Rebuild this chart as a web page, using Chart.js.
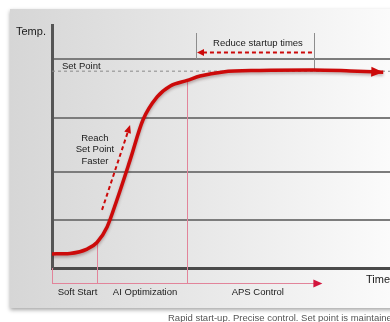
<!DOCTYPE html>
<html>
<head>
<meta charset="utf-8">
<script src="https://cdn.jsdelivr.net/npm/chart.js@4/dist/chart.umd.min.js"></script>
<style>
  html, body { margin: 0; padding: 0; background: #fff; overflow: hidden; }
  #wrap { width: 390px; height: 322px; }
</style>
</head>
<body>
<div id="wrap"><canvas id="c" width="390" height="322"></canvas></div>
<script>
// Heating profile: time (% of run) vs temperature (% of scale)
const timePct = [0, 5.3, 10.4, 13.3, 16.3, 19.2, 23.1, 26.9, 31.1, 35, 40, 43.8, 50.6, 61.5, 77.2, 88.2, 98];
const tempPct = [5.8, 6.0, 7.8, 10.5, 16.9, 28, 44.4, 60.9, 70.4, 74.9, 77.2, 79, 80.7, 81.3, 81.5, 81.1, 80.6];

// Horizontal reference levels drawn as grid lines
const tempGrid = [19.8, 39.5, 61.7, 86];
const setPoint = 81;

// Control phases along the time axis
const phaseNames = ['Soft Start', 'AI Optimization', 'APS Control'];
const phaseStart = [0, 13.3, 40];
const phaseEnd = 80;

// Time saved compared with a conventional start-up
const reduceSpan = [42.6, 77.5];
const reduceLevel = 88.9;
const fasterFrom = [14.8, 23.9];
const fasterTo = [23.1, 58.8];

const FONT = "'Liberation Sans', Arial, sans-serif";

function arrowHead(ctx, x1, y1, x2, y2, len, half, color) {
  const a = Math.atan2(y2 - y1, x2 - x1);
  ctx.save();
  ctx.fillStyle = color;
  ctx.beginPath();
  ctx.moveTo(x2, y2);
  ctx.lineTo(x2 - len * Math.cos(a) + half * Math.sin(a), y2 - len * Math.sin(a) - half * Math.cos(a));
  ctx.lineTo(x2 - len * Math.cos(a) - half * Math.sin(a), y2 - len * Math.sin(a) + half * Math.cos(a));
  ctx.closePath();
  ctx.fill();
  ctx.restore();
}

function curveAt(t) {
  const i = timePct.indexOf(t);
  return tempPct[i];
}

const panelPlugin = {
  id: 'panel',
  beforeDraw(chart) {
    const ctx = chart.ctx;
    ctx.save();
    ctx.fillStyle = '#ffffff';
    ctx.fillRect(0, 0, chart.width, chart.height);
    // soft card with a drop shadow
    ctx.shadowColor = 'rgba(0,0,0,0.35)';
    ctx.shadowBlur = 4;
    ctx.shadowOffsetY = 2;
    const g = ctx.createLinearGradient(10, 0, 390, 0);
    g.addColorStop(0, '#d6d6d6');
    g.addColorStop(0.45, '#e6e6e6');
    g.addColorStop(1, '#fbfbfb');
    ctx.fillStyle = g;
    ctx.fillRect(10, 9, 400, 299);
    ctx.restore();
  },
  beforeDatasetsDraw(chart) {
    const ctx = chart.ctx;
    const xs = chart.scales.x, ys = chart.scales.y;
    const base = chart.chartArea.bottom + 15;
    ctx.save();
    // phase boundaries
    ctx.strokeStyle = '#e2849a';
    ctx.lineWidth = 1;
    phaseStart.forEach((t, i) => {
      const px = Math.round(xs.getPixelForValue(t)) + 0.5;
      const top = i === 0 ? chart.chartArea.bottom : ys.getPixelForValue(curveAt(t));
      ctx.beginPath();
      ctx.moveTo(px, base);
      ctx.lineTo(px, top);
      ctx.stroke();
    });
    // time axis of the phases
    const endX = xs.getPixelForValue(phaseEnd);
    ctx.beginPath();
    ctx.moveTo(xs.getPixelForValue(0), base + 0.5);
    ctx.lineTo(endX - 4, base + 0.5);
    ctx.stroke();
    arrowHead(ctx, endX - 10, base + 0.5, endX, base + 0.5, 9, 4, '#d3153d');

    // bracket of the saved time
    ctx.strokeStyle = '#8d8d8d';
    const topB = ys.getPixelForValue(96.7);
    const lx = Math.round(xs.getPixelForValue(reduceSpan[0])) + 0.5;
    const rx = Math.round(xs.getPixelForValue(reduceSpan[1])) + 0.5;
    ctx.beginPath();
    ctx.moveTo(lx, topB); ctx.lineTo(lx, ys.getPixelForValue(tempGrid[3]));
    ctx.moveTo(rx, topB); ctx.lineTo(rx, ys.getPixelForValue(setPoint));
    ctx.stroke();
    ctx.restore();
  },
  beforeDatasetDraw(chart, args) {
    if (args.index === 0) {
      chart.ctx.save();
      chart.ctx.shadowColor = 'rgba(60,0,0,0.3)';
      chart.ctx.shadowBlur = 3;
      chart.ctx.shadowOffsetY = 2;
    }
  },
  afterDatasetDraw(chart, args) {
    if (args.index === 0) chart.ctx.restore();
  },
  afterDatasetsDraw(chart) {
    const ctx = chart.ctx;
    const xs = chart.scales.x, ys = chart.scales.y;
    const area = chart.chartArea;
    const red = '#cc0a0a';
    ctx.save();

    // arrowhead at the end of the curve
    const n = timePct.length;
    arrowHead(ctx,
      xs.getPixelForValue(timePct[n - 2]), ys.getPixelForValue(tempPct[n - 2]),
      xs.getPixelForValue(timePct[n - 1]), ys.getPixelForValue(tempPct[n - 1]),
      12, 5, red);

    // dashed arrow: reduce startup times
    const ry = Math.round(ys.getPixelForValue(reduceLevel)) + 0.5;
    const rx1 = xs.getPixelForValue(reduceSpan[1]) - 2;
    const rx0 = xs.getPixelForValue(reduceSpan[0]) + 1;
    ctx.strokeStyle = red;
    ctx.lineWidth = 2;
    ctx.setLineDash([4, 3]);
    ctx.beginPath();
    ctx.moveTo(rx1, ry);
    ctx.lineTo(rx0 + 6, ry);
    ctx.stroke();
    ctx.setLineDash([]);
    arrowHead(ctx, rx1, ry, rx0, ry, 7, 3.5, red);

    // dashed arrow: reach set point faster
    const fx0 = xs.getPixelForValue(fasterFrom[0]), fy0 = ys.getPixelForValue(fasterFrom[1]);
    const fx1 = xs.getPixelForValue(fasterTo[0]), fy1 = ys.getPixelForValue(fasterTo[1]);
    const ang = Math.atan2(fy1 - fy0, fx1 - fx0);
    ctx.setLineDash([4, 3]);
    ctx.beginPath();
    ctx.moveTo(fx0, fy0);
    ctx.lineTo(fx1 - 6 * Math.cos(ang), fy1 - 6 * Math.sin(ang));
    ctx.stroke();
    ctx.setLineDash([]);
    arrowHead(ctx, fx0, fy0, fx1, fy1, 8, 3.5, red);

    // texts
    ctx.fillStyle = '#1a1a1a';
    ctx.textBaseline = 'middle';
    ctx.font = `11px ${FONT}`;
    ctx.textAlign = 'left';
    ctx.fillText('Temp.', 16, 32);
    ctx.fillText('Time', 366, 280);

    ctx.font = `9.5px ${FONT}`;
    ctx.fillText('Set Point', area.left + 10, ys.getPixelForValue(setPoint) - 5);

    ctx.textAlign = 'center';
    ctx.fillText('Reduce startup times',
      (xs.getPixelForValue(reduceSpan[0]) + xs.getPixelForValue(reduceSpan[1])) / 2 + 3,
      ys.getPixelForValue(92.6));

    const rcx = xs.getPixelForValue(12.7);
    ['Reach', 'Set Point', 'Faster'].forEach((s, i) => {
      ctx.fillText(s, rcx, ys.getPixelForValue(53.5) + i * 11.5);
    });

    const ends = phaseStart.slice(1).concat([phaseEnd]);
    phaseNames.forEach((name, i) => {
      const cx = (xs.getPixelForValue(phaseStart[i]) + xs.getPixelForValue(ends[i])) / 2 + 3;
      ctx.fillText(name, cx, area.bottom + 24);
    });

    // caption under the card
    ctx.fillStyle = '#555';
    ctx.textAlign = 'left';
    ctx.fillText('Rapid start-up. Precise control. Set point is maintained.', 168, 318);
    ctx.restore();
  }
};

new Chart(document.getElementById('c'), {
  type: 'line',
  data: {
    datasets: [
      {
        data: timePct.map((t, i) => ({ x: t, y: tempPct[i] })),
        borderColor: '#cc0a0a',
        borderWidth: 3.5,
        pointRadius: 0,
        cubicInterpolationMode: 'monotone',
        fill: false
      },
      {
        data: [{ x: 0, y: setPoint }, { x: 100, y: setPoint }],
        borderColor: '#8a8a8a',
        borderWidth: 1,
        borderDash: [3, 3],
        pointRadius: 0,
        fill: false
      }
    ]
  },
  options: {
    responsive: false,
    animation: false,
    layout: { padding: { left: 52, top: 25, right: 0, bottom: 54 } },
    plugins: { legend: { display: false }, tooltip: { enabled: false } },
    scales: {
      x: {
        type: 'linear', min: 0, max: 100,
        ticks: { display: false },
        grid: { display: false, drawTicks: false },
        border: { display: true, color: '#4a4a4a', width: 3 }
      },
      y: {
        type: 'linear', min: 0, max: 100,
        afterBuildTicks: s => { s.ticks = tempGrid.map(v => ({ value: v })); },
        ticks: { display: false },
        grid: { color: '#7c7c7c', lineWidth: 2, drawTicks: false },
        border: { display: true, color: '#555', width: 3 }
      }
    }
  },
  plugins: [panelPlugin]
});
</script>
</body>
</html>
